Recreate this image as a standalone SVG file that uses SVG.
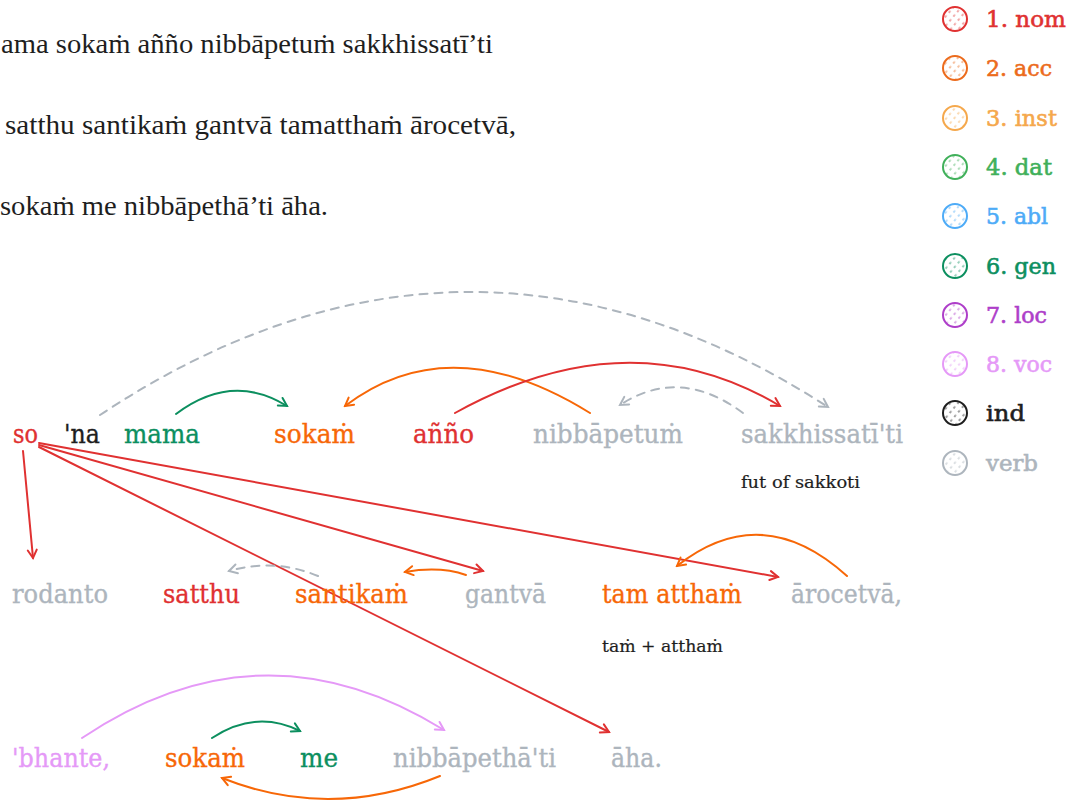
<svg xmlns="http://www.w3.org/2000/svg" width="1081" height="805" viewBox="0 0 1081 805">
  <style>
    .para { font-family: "Liberation Serif", "Times New Roman", serif; font-size: 27px; fill: #1e1e1e; }
    .w { font-family: "DejaVu Serif", serif; font-size: 26px; stroke-width: 0.35px; }
    .note { font-family: "DejaVu Serif", serif; font-size: 17px; fill: #1e1e1e; stroke: #1e1e1e; stroke-width: 0.2px; }
    .lg { font-family: "DejaVu Serif", serif; font-size: 23px; stroke-width: 0.6px; }
    .nom { fill: #e03131; stroke: #e03131; } .acc { fill: #f76707; stroke: #f76707; }
    .acc2 { fill: #ec6b1c; stroke: #ec6b1c; } .inst { fill: #f5a84c; stroke: #f5a84c; }
    .dat { fill: #40b05a; stroke: #40b05a; } .abl { fill: #4dabf7; stroke: #4dabf7; }
    .gen { fill: #0c8f5f; stroke: #0c8f5f; } .loc { fill: #ae3ec9; stroke: #ae3ec9; }
    .voc { fill: #e599f7; stroke: #e599f7; } .ind { fill: #1e1e1e; stroke: #1e1e1e; }
    .verb { fill: #adb5bd; stroke: #adb5bd; }
    .sw { stroke-width: 2; }
    .c { fill: none; stroke-width: 2; stroke-linecap: round; }
    .dash { stroke-dasharray: 8 7; }
  </style>
  <defs>
    <marker id="ar-red" viewBox="0 0 12 12" refX="10" refY="6" markerWidth="12" markerHeight="12" markerUnits="userSpaceOnUse" orient="auto">
      <path d="M2,1.5 L10,6 L2,10.5" fill="none" stroke="#e03131" stroke-width="2" stroke-linecap="round"/>
    </marker>
    <marker id="ar-orange" viewBox="0 0 12 12" refX="10" refY="6" markerWidth="12" markerHeight="12" markerUnits="userSpaceOnUse" orient="auto">
      <path d="M2,1.5 L10,6 L2,10.5" fill="none" stroke="#f76707" stroke-width="2" stroke-linecap="round"/>
    </marker>
    <marker id="ar-green" viewBox="0 0 12 12" refX="10" refY="6" markerWidth="12" markerHeight="12" markerUnits="userSpaceOnUse" orient="auto">
      <path d="M2,1.5 L10,6 L2,10.5" fill="none" stroke="#0c8f5f" stroke-width="2" stroke-linecap="round"/>
    </marker>
    <marker id="ar-violet" viewBox="0 0 12 12" refX="10" refY="6" markerWidth="12" markerHeight="12" markerUnits="userSpaceOnUse" orient="auto">
      <path d="M2,1.5 L10,6 L2,10.5" fill="none" stroke="#e599f7" stroke-width="2" stroke-linecap="round"/>
    </marker>
    <marker id="ar-gray" viewBox="0 0 12 12" refX="10" refY="6" markerWidth="12" markerHeight="12" markerUnits="userSpaceOnUse" orient="auto">
      <path d="M2,1.5 L10,6 L2,10.5" fill="none" stroke="#adb5bd" stroke-width="2" stroke-linecap="round"/>
    </marker>
    <!-- hatched fills for the legend swatches, one per case colour -->
    <pattern id="h-nom" width="6" height="6" patternUnits="userSpaceOnUse" patternTransform="rotate(-50)"><line x1="0" y1="3" x2="2.5" y2="3" stroke="#e03131" stroke-width="1.2" stroke-opacity="0.7"/></pattern>
    <pattern id="h-acc" width="6" height="6" patternUnits="userSpaceOnUse" patternTransform="rotate(-50)"><line x1="0" y1="3" x2="2.5" y2="3" stroke="#ec6b1c" stroke-width="1.2" stroke-opacity="0.7"/></pattern>
    <pattern id="h-inst" width="6" height="6" patternUnits="userSpaceOnUse" patternTransform="rotate(-50)"><line x1="0" y1="3" x2="2.5" y2="3" stroke="#f5a84c" stroke-width="1.2" stroke-opacity="0.7"/></pattern>
    <pattern id="h-dat" width="6" height="6" patternUnits="userSpaceOnUse" patternTransform="rotate(-50)"><line x1="0" y1="3" x2="2.5" y2="3" stroke="#40b05a" stroke-width="1.2" stroke-opacity="0.7"/></pattern>
    <pattern id="h-abl" width="6" height="6" patternUnits="userSpaceOnUse" patternTransform="rotate(-50)"><line x1="0" y1="3" x2="2.5" y2="3" stroke="#4dabf7" stroke-width="1.2" stroke-opacity="0.7"/></pattern>
    <pattern id="h-gen" width="6" height="6" patternUnits="userSpaceOnUse" patternTransform="rotate(-50)"><line x1="0" y1="3" x2="2.5" y2="3" stroke="#0c8f5f" stroke-width="1.2" stroke-opacity="0.7"/></pattern>
    <pattern id="h-loc" width="6" height="6" patternUnits="userSpaceOnUse" patternTransform="rotate(-50)"><line x1="0" y1="3" x2="2.5" y2="3" stroke="#ae3ec9" stroke-width="1.2" stroke-opacity="0.7"/></pattern>
    <pattern id="h-voc" width="6" height="6" patternUnits="userSpaceOnUse" patternTransform="rotate(-50)"><line x1="0" y1="3" x2="2.5" y2="3" stroke="#e599f7" stroke-width="1.2" stroke-opacity="0.7"/></pattern>
    <pattern id="h-ind" width="6" height="6" patternUnits="userSpaceOnUse" patternTransform="rotate(-50)"><line x1="0" y1="3" x2="2.5" y2="3" stroke="#1e1e1e" stroke-width="1.2" stroke-opacity="0.7"/></pattern>
    <pattern id="h-verb" width="6" height="6" patternUnits="userSpaceOnUse" patternTransform="rotate(-50)"><line x1="0" y1="3" x2="2.5" y2="3" stroke="#adb5bd" stroke-width="1.2" stroke-opacity="0.7"/></pattern>
  </defs>

  <!-- source text -->
  <g id="source-text">
    <text class="para" x="1" y="53" textLength="492" lengthAdjust="spacingAndGlyphs">ama sokaṁ añño nibbāpetuṁ sakkhissatī’ti</text>
    <text class="para" x="5" y="134" textLength="511" lengthAdjust="spacingAndGlyphs">satthu santikaṁ gantvā tamatthaṁ ārocetvā,</text>
    <text class="para" x="0" y="215" textLength="328" lengthAdjust="spacingAndGlyphs">sokaṁ me nibbāpethā’ti āha.</text>
  </g>

  <!-- legend -->
  <g id="legend">
    <g id="lg-nom"><circle class="sw" cx="955" cy="19" r="12" fill="url(#h-nom)" stroke="#e03131"/><text class="lg nom" x="986" y="27" textLength="80" lengthAdjust="spacingAndGlyphs">1. nom</text></g>
    <g id="lg-acc"><circle class="sw" cx="955" cy="68" r="12" fill="url(#h-acc)" stroke="#ec6b1c"/><text class="lg acc2" x="986" y="76" textLength="66" lengthAdjust="spacingAndGlyphs">2. acc</text></g>
    <g id="lg-inst"><circle class="sw" cx="955" cy="118" r="12" fill="url(#h-inst)" stroke="#f5a84c"/><text class="lg inst" x="986" y="126" textLength="71" lengthAdjust="spacingAndGlyphs">3. inst</text></g>
    <g id="lg-dat"><circle class="sw" cx="955" cy="167" r="12" fill="url(#h-dat)" stroke="#40b05a"/><text class="lg dat" x="986" y="175" textLength="66" lengthAdjust="spacingAndGlyphs">4. dat</text></g>
    <g id="lg-abl"><circle class="sw" cx="955" cy="216" r="12" fill="url(#h-abl)" stroke="#4dabf7"/><text class="lg abl" x="986" y="224" textLength="62" lengthAdjust="spacingAndGlyphs">5. abl</text></g>
    <g id="lg-gen"><circle class="sw" cx="955" cy="266" r="12" fill="url(#h-gen)" stroke="#0c8f5f"/><text class="lg gen" x="986" y="274" textLength="70" lengthAdjust="spacingAndGlyphs">6. gen</text></g>
    <g id="lg-loc"><circle class="sw" cx="955" cy="315" r="12" fill="url(#h-loc)" stroke="#ae3ec9"/><text class="lg loc" x="986" y="323" textLength="61" lengthAdjust="spacingAndGlyphs">7. loc</text></g>
    <g id="lg-voc"><circle class="sw" cx="955" cy="364" r="12" fill="url(#h-voc)" stroke="#e599f7"/><text class="lg voc" x="986" y="372" textLength="66" lengthAdjust="spacingAndGlyphs">8. voc</text></g>
    <g id="lg-ind"><circle class="sw" cx="955" cy="413" r="12" fill="url(#h-ind)" stroke="#1e1e1e"/><text class="lg ind" x="986" y="421" textLength="39" lengthAdjust="spacingAndGlyphs">ind</text></g>
    <g id="lg-verb"><circle class="sw" cx="955" cy="463" r="12" fill="url(#h-verb)" stroke="#adb5bd"/><text class="lg verb" x="986" y="471" textLength="52" lengthAdjust="spacingAndGlyphs">verb</text></g>
  </g>

  <!-- connectors -->
  <g id="connectors">
    <path class="c dash" stroke="#adb5bd" d="M100,415 Q465,173 828,407" marker-end="url(#ar-gray)"/>
    <path class="c" stroke="#0c8f5f" d="M176,414 Q232,372 287,406" marker-end="url(#ar-green)"/>
    <path class="c" stroke="#f76707" d="M590,413 Q450,326 345,406" marker-end="url(#ar-orange)"/>
    <path class="c" stroke="#e03131" d="M455,413 Q630,316 780,406" marker-end="url(#ar-red)"/>
    <path class="c dash" stroke="#adb5bd" d="M743,413 Q680,366 620,405" marker-end="url(#ar-gray)"/>

    <path class="c" stroke="#e03131" d="M23,451 L33,558" marker-end="url(#ar-red)"/>
    <path class="c" stroke="#e03131" d="M39,443 L778,577" marker-end="url(#ar-red)"/>
    <path class="c" stroke="#e03131" d="M39,445 L483,571" marker-end="url(#ar-red)"/>
    <path class="c" stroke="#e03131" d="M39,447 L609,732" marker-end="url(#ar-red)"/>

    <path class="c dash" stroke="#adb5bd" d="M318,576 Q275,558 229,571" marker-end="url(#ar-gray)"/>
    <path class="c" stroke="#f76707" d="M466,575 Q440,566 405,572" marker-end="url(#ar-orange)"/>
    <path class="c" stroke="#f76707" d="M847,576 Q762,499 677,566" marker-end="url(#ar-orange)"/>

    <path class="c" stroke="#e599f7" d="M82,738 Q262,617 444,730" marker-end="url(#ar-violet)"/>
    <path class="c" stroke="#0c8f5f" d="M212,738 Q256,709 300,731" marker-end="url(#ar-green)"/>
    <path class="c" stroke="#f76707" d="M440,776 Q330,821 222,778" marker-end="url(#ar-orange)"/>
  </g>

  <!-- row 1 -->
  <g id="so"><text class="w nom" x="13" y="443" textLength="25" lengthAdjust="spacingAndGlyphs">so</text></g>
  <g id="na"><text class="w ind" x="64" y="443" textLength="36" lengthAdjust="spacingAndGlyphs">'na</text></g>
  <g id="mama"><text class="w gen" x="124" y="443" textLength="76" lengthAdjust="spacingAndGlyphs">mama</text></g>
  <g id="sokam1"><text class="w acc" x="274" y="443" textLength="81" lengthAdjust="spacingAndGlyphs">sokaṁ</text></g>
  <g id="anno"><text class="w nom" x="413" y="443" textLength="61" lengthAdjust="spacingAndGlyphs">añño</text></g>
  <g id="nibbapetum"><text class="w verb" x="533" y="443" textLength="150" lengthAdjust="spacingAndGlyphs">nibbāpetuṁ</text></g>
  <g id="sakkhissati"><text class="w verb" x="741" y="443" textLength="162" lengthAdjust="spacingAndGlyphs">sakkhissatī'ti</text>
    <text class="note" x="741" y="488" textLength="119" lengthAdjust="spacingAndGlyphs">fut of sakkoti</text></g>

  <!-- row 2 -->
  <g id="rodanto"><text class="w verb" x="12" y="603" textLength="96" lengthAdjust="spacingAndGlyphs">rodanto</text></g>
  <g id="satthu"><text class="w nom" x="163" y="603" textLength="77" lengthAdjust="spacingAndGlyphs">satthu</text></g>
  <g id="santikam"><text class="w acc" x="295" y="603" textLength="113" lengthAdjust="spacingAndGlyphs">santikaṁ</text></g>
  <g id="gantva"><text class="w verb" x="465" y="603" textLength="81" lengthAdjust="spacingAndGlyphs">gantvā</text></g>
  <g id="tamattham"><text class="w acc" x="602" y="603" textLength="140" lengthAdjust="spacingAndGlyphs">tam atthaṁ</text>
    <text class="note" x="602" y="652" textLength="121" lengthAdjust="spacingAndGlyphs">taṁ + atthaṁ</text></g>
  <g id="arocetva"><text class="w verb" x="791" y="603" textLength="111" lengthAdjust="spacingAndGlyphs">ārocetvā,</text></g>

  <!-- row 3 -->
  <g id="bhante"><text class="w voc" x="12" y="767" textLength="98" lengthAdjust="spacingAndGlyphs">'bhante,</text></g>
  <g id="sokam2"><text class="w acc" x="165" y="767" textLength="80" lengthAdjust="spacingAndGlyphs">sokaṁ</text></g>
  <g id="me"><text class="w gen" x="300" y="767" textLength="38" lengthAdjust="spacingAndGlyphs">me</text></g>
  <g id="nibbapetha"><text class="w verb" x="393" y="767" textLength="163" lengthAdjust="spacingAndGlyphs">nibbāpethā'ti</text></g>
  <g id="aha"><text class="w verb" x="611" y="767" textLength="51" lengthAdjust="spacingAndGlyphs">āha.</text></g>
</svg>
